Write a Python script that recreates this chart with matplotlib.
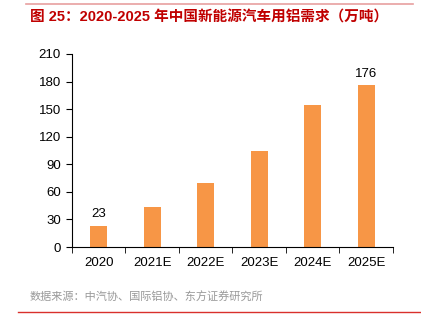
import numpy as np
import matplotlib
matplotlib.use("Agg")
import matplotlib.pyplot as plt

plt.rcParams['font.family'] = ['Liberation Sans', 'Noto Sans CJK SC', 'DejaVu Sans']

years = ["2020", "2021E", "2022E", "2023E", "2024E", "2025E"]
demand = [23, 44, 70, 104, 155, 176]
shown_labels = {0: "23", 5: "176"}

title = "图 25：2020-2025 年中国新能源汽车用铝需求（万吨）"
source = "数据来源：中汽协、国际铝协、东方证券研究所"

fig = plt.figure(figsize=(4.21, 3.29), dpi=100)
ax = fig.add_axes([0.171, 0.249, 0.762, 0.587])

x = np.arange(len(years))
ax.bar(x, demand, width=0.32, color="#F79646", zorder=2)

for i, txt in shown_labels.items():
    ax.text(x[i], demand[i] + 6, txt, ha="center", va="bottom", fontsize=9.5)

ax.set_ylim(0, 210)
ax.set_yticks(range(0, 211, 30))
ax.set_xlim(-0.5, len(years) - 0.5)
ax.set_xticks(x)
ax.set_xticklabels(years)
ax.set_xticks(np.arange(-0.5, len(years), 1.0), minor=True)
ax.tick_params(axis="x", which="major", length=0, pad=7, labelsize=9.5)
ax.tick_params(axis="x", which="minor", length=4, direction="out")
ax.tick_params(axis="y", length=4, direction="out", labelsize=9.5, pad=4)
for s in ["top", "right"]:
    ax.spines[s].set_visible(False)
ax.spines["left"].set_linewidth(0.8)
ax.spines["bottom"].set_linewidth(0.8)

# header / footer
fig.add_artist(plt.Line2D([26 / 421, 413 / 421], [1 - 4 / 329, 1 - 4 / 329],
                          color="#E8A0A0", lw=1.2))
fig.text(30 / 421, 1 - 17 / 329, title, color="#C00000", fontsize=10.5,
         fontweight="bold", va="center", ha="left",
         family=['Liberation Sans', 'Noto Sans CJK SC'])
fig.text(30 / 421, 1 - 297 / 329, source, color="#999999", fontsize=8,
         va="center", ha="left", family=['Noto Sans CJK SC', 'DejaVu Sans'])
fig.add_artist(plt.Line2D([18 / 421, 420 / 421], [1 - 312 / 329, 1 - 312 / 329],
                          color="#D9302C", lw=1.0))

fig.savefig("out.png", dpi=100)
